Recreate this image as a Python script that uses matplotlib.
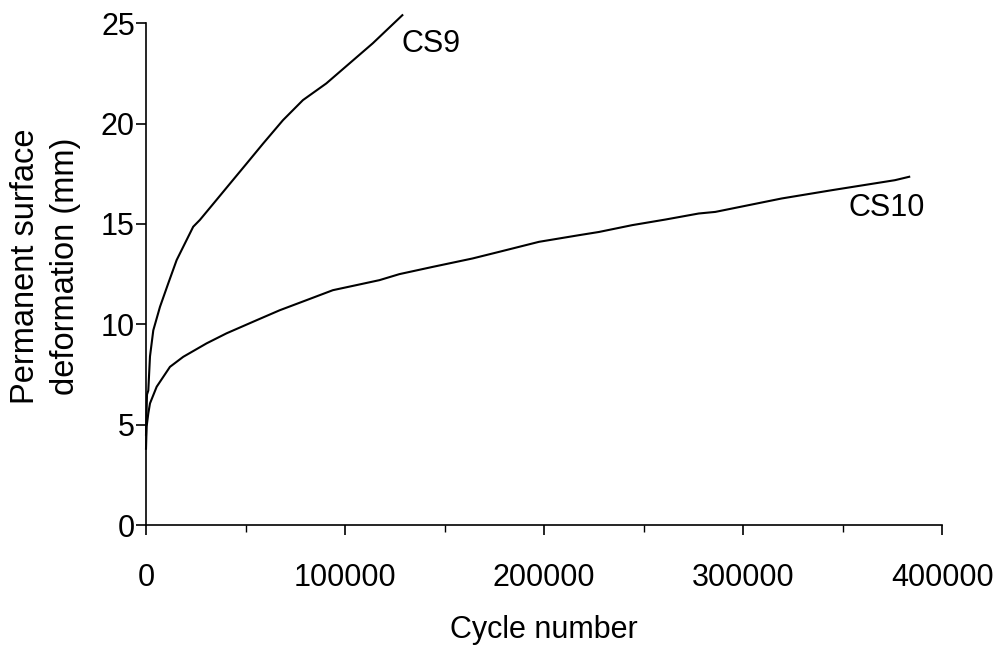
import numpy as np
import matplotlib.pyplot as plt
from matplotlib.ticker import MultipleLocator

plt.rcParams['font.family'] = ['Liberation Sans', 'DejaVu Sans']

# CS9 curve (cycles, mm)
cs9_x = [0, 500, 1150, 2000, 3660, 7020, 11180, 15390, 20400, 23710, 27070,
         35440, 42110, 50480, 58800, 68820, 78850, 90580, 102260, 113940, 128800]
cs9_y = [4.5, 6.5, 6.7, 8.4, 9.7, 10.87, 12.04, 13.2, 14.2, 14.86, 15.2,
         16.2, 17.0, 18.0, 19.0, 20.17, 21.17, 22.0, 23.0, 24.0, 25.4]

# CS10 curve (cycles, mm)
cs10_x = [0, 300, 1150, 2000, 5360, 12030, 18700, 30430, 40450, 55490, 67170,
          80550, 93890, 105610, 117290, 127320, 144010, 164060, 177440, 197490,
          217540, 227570, 244260, 261010, 277690, 286060, 319450, 344500,
          376290, 383460]
cs10_y = [3.8, 4.9, 5.56, 6.06, 6.89, 7.88, 8.38, 9.05, 9.55, 10.2, 10.7,
          11.2, 11.7, 11.95, 12.2, 12.5, 12.86, 13.28, 13.61, 14.11,
          14.44, 14.6, 14.94, 15.22, 15.52, 15.6, 16.27, 16.68,
          17.18, 17.35]

fig = plt.figure(figsize=(9.98, 6.45), dpi=100)
ax = fig.add_axes([0.1463, 0.186, 0.7977, 0.778])

ax.plot(cs9_x, cs9_y, color='black', lw=1.5, clip_on=False)
ax.plot(cs10_x, cs10_y, color='black', lw=1.5, clip_on=False)

ax.text(128300, 23.95, 'CS9', fontsize=22, ha='left', va='center')
ax.text(352900, 15.8, 'CS10', fontsize=22, ha='left', va='center')

ax.set_xlim(0, 400000)
ax.set_ylim(0, 25)
ax.xaxis.set_major_locator(MultipleLocator(100000))
ax.xaxis.set_minor_locator(MultipleLocator(50000))
ax.yaxis.set_major_locator(MultipleLocator(5))

for s in ['top', 'right']:
    ax.spines[s].set_visible(False)
for s in ['left', 'bottom']:
    ax.spines[s].set_linewidth(1.2)

ax.tick_params(axis='both', which='major', direction='out', length=7, width=1.2,
               labelsize=22)
ax.tick_params(axis='y', which='major', pad=1)
ax.tick_params(axis='x', which='major', pad=20)
ax.tick_params(axis='x', which='minor', direction='out', length=5, width=1.0)

ax.set_xlabel('Cycle number', fontsize=22, labelpad=16)
ax.set_ylabel('Permanent surface\ndeformation (mm)', fontsize=23.5,
              linespacing=1.35)
ax.yaxis.set_label_coords(-0.082, 0.516)

fig.savefig('out.png', dpi=100)
